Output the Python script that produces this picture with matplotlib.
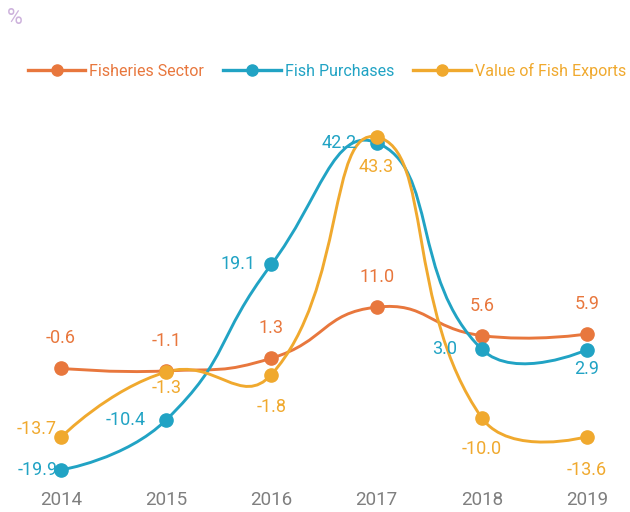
import numpy as np
import matplotlib
matplotlib.use('Agg')
import matplotlib.pyplot as plt
from matplotlib.path import Path
from matplotlib.patches import PathPatch
from matplotlib.lines import Line2D

plt.rcParams['font.family'] = ['Roboto', 'DejaVu Sans']

# data
anos = ['2014', '2015', '2016', '2017', '2018', '2019']
setor_pesca = [-0.6, -1.1, 1.3, 11.0, 5.6, 5.9]
compras_peixe = [-19.9, -10.4, 19.1, 42.2, 3.0, 2.9]
exportacoes = [-13.7, -1.3, -1.8, 43.3, -10.0, -13.6]

series = [
    ('Fisheries Sector', setor_pesca, '#E8773D'),
    ('Fish Purchases', compras_peixe, '#21A3C4'),
    ('Value of Fish Exports', exportacoes, '#F0A92E'),
]

# label offsets in pixels (dx, dy) and alignment per point
offs = {
    'Fisheries Sector': [(0, 30, 'center')] * 6,
    'Fish Purchases': [(-3, 0, 'right'), (-20, 0, 'right'), (-16, 0, 'right'),
                       (-20, 0, 'right'), (-25, 0, 'right'), (0, -19, 'center')],
    'Value of Fish Exports': [(-4, 8, 'right'), (0, -16, 'center'), (0, -32, 'center'),
                              (0, -30, 'center'), (0, -31, 'center'), (0, -33, 'center')],
}

W, H = 630, 512
fig = plt.figure(figsize=(6.3, 5.12), dpi=100)
ax = fig.add_axes([61 / W, 32 / H, (587 - 61) / W, 380 / H])
ax.set_xlim(0, 5)
ax.set_ylim(-21.8, 50.3)
for s in ax.spines.values():
    s.set_visible(False)
ax.set_yticks([])
ax.set_xticks(range(len(anos)))
ax.set_xticklabels(anos, color='#7f7f7f', fontsize=13.5)
ax.tick_params(axis='x', length=0, pad=8)

x = np.arange(len(anos))


def suave(pts, s=0.5):
    # suavizacao tipo echarts (bezier), no espaco de pixels
    n = len(pts)
    cp_out = pts.copy()
    cp_in = pts.copy()
    for i in range(1, n - 1):
        v = pts[i + 1] - pts[i - 1]
        d0 = np.hypot(*(pts[i] - pts[i - 1]))
        d1 = np.hypot(*(pts[i + 1] - pts[i]))
        r = d1 / (d0 + d1)
        cp_out[i] = pts[i] + v * s * r
        cp_in[i] = pts[i] - v * s * (1 - r)
    verts = [pts[0]]
    codes = [Path.MOVETO]
    for i in range(n - 1):
        verts += [cp_out[i], cp_in[i + 1], pts[i + 1]]
        codes += [Path.CURVE4] * 3
    return np.array(verts), codes


for nome, vals, cor in series:
    disp = ax.transData.transform(np.column_stack([x, vals]))
    verts, codes = suave(disp)
    verts = ax.transData.inverted().transform(verts)
    ax.add_patch(PathPatch(Path(verts, codes), fill=False, edgecolor=cor,
                           lw=2.1, clip_on=False, zorder=2, capstyle='round'))
    ax.plot(x, vals, 'o', color=cor, ms=9.5, clip_on=False, zorder=3)
    for i, v in enumerate(vals):
        dx, dy, ha = offs[nome][i]
        ax.annotate(f'{v:.1f}', (x[i], v), xytext=(dx * 0.72, dy * 0.72),
                    textcoords='offset points', ha=ha, va='center',
                    color=cor, fontsize=13, zorder=4)

handles = [Line2D([], [], color=c, lw=2.4, marker='o', ms=8) for _, _, c in series]
leg = fig.legend(handles, [n for n, _, _ in series], loc='center',
                 bbox_to_anchor=(327 / W, 1 - 71 / H), ncol=3, frameon=False,
                 fontsize=11.5, handlelength=3.6, handletextpad=0.25,
                 columnspacing=1.2)
for t, (_, _, c) in zip(leg.get_texts(), series):
    t.set_color(c)

fig.text(7 / W, 1 - 18 / H, '%', color='#CDB2DC', fontsize=15.5, va='center')

fig.savefig('out.png', dpi=100)
